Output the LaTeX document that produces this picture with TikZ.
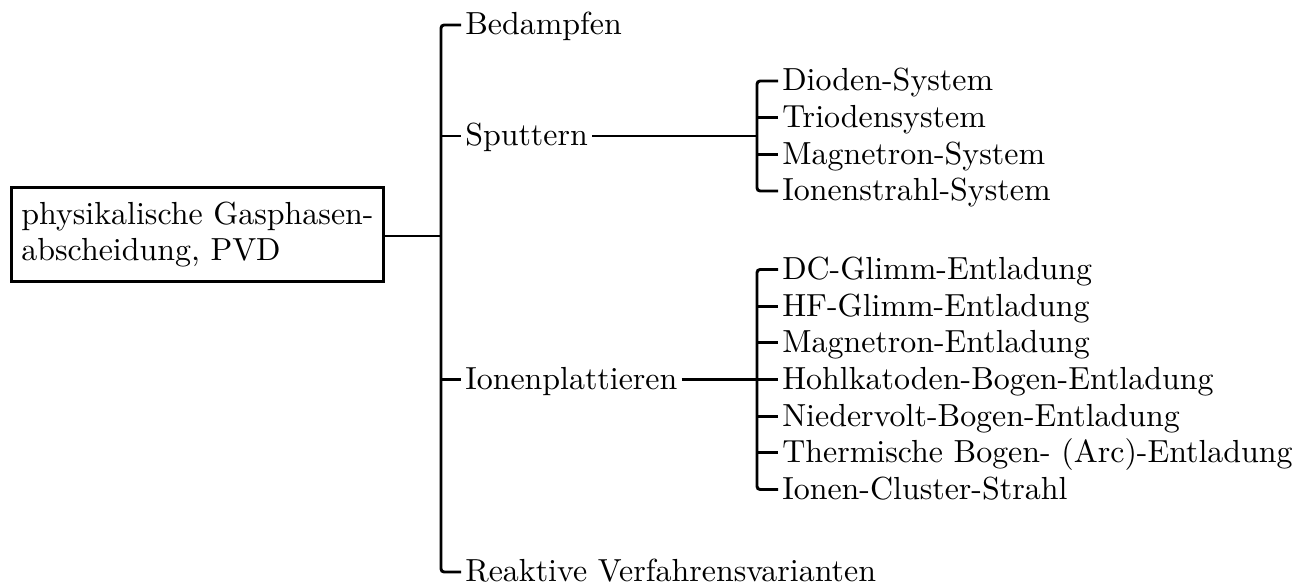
\documentclass[tikz,border=0pt]{standalone}
\begin{document}
\begin{tikzpicture}[x=0.3257pt,y=-0.3257pt,
  conn/.style={line width=0.95pt,rounded corners=1pt},
  item/.style={anchor=west,inner xsep=1.2pt,inner ysep=0pt,text height=8pt,text depth=1.6pt,font=\fontsize{10.4}{12}\selectfont},
  mainbox/.style={draw,line width=0.95pt,align=left,inner xsep=3.2pt,minimum height=30.9pt,font=\fontsize{10.4}{12}\selectfont}]
\useasboundingbox (0,0) rectangle (1302,585);
\node[mainbox] (pvd) at (197.5,234.5) {physikalische Gasphasen-\\abscheidung, PVD};
% main items
\node[item] (bed) at (461,25) {Bedampfen};
\node[item] (spu) at (461,136) {Sputtern};
\node[item] (ion) at (461,379.5) {Ionenplattieren};
\node[item] (rea) at (461,572) {Reaktive Verfahrensvarianten};
% trunk coordinates
\coordinate (t0) at (441,25);
\coordinate (tb) at (441,236);
\coordinate (t1) at (441,572);
\draw[conn] (bed.west) -- (t0) -- (t1) -- (rea.west);
\draw[conn] (pvd.east |- tb) -- (tb);
\draw[conn] (spu.west -| t0) -- (spu.west);
\draw[conn] (ion.west -| t0) -- (ion.west);
% sputter group
\node[item] (s1) at (778,81) {Dioden-System};
\node[item] (s2) at (778,117.7) {Triodensystem};
\node[item] (s3) at (778,154.3) {Magnetron-System};
\node[item] (s4) at (778,191) {Ionenstrahl-System};
\coordinate (sa) at (757,81);
\coordinate (sb) at (757,191);
\draw[conn] (s1.west) -- (sa) -- (sb) -- (s4.west);
\draw[conn] (spu.east) -- (spu.east -| sa);
\draw[conn] (s2.west -| sa) -- (s2.west);
\draw[conn] (s3.west -| sa) -- (s3.west);
% ion plating group
\node[item] (i1) at (778,269.5) {DC-Glimm-Entladung};
\node[item] (i2) at (778,306.2) {HF-Glimm-Entladung};
\node[item] (i3) at (778,342.8) {Magnetron-Entladung};
\node[item] (i4) at (778,379.5) {Hohlkatoden-Bogen-Entladung};
\node[item] (i5) at (778,416.2) {Niedervolt-Bogen-Entladung};
\node[item] (i6) at (778,452.8) {Thermische Bogen- (Arc)-Entladung};
\node[item] (i7) at (778,489.5) {Ionen-Cluster-Strahl};
\coordinate (ia) at (757,269.5);
\coordinate (ib) at (757,489.5);
\draw[conn] (i1.west) -- (ia) -- (ib) -- (i7.west);
\draw[conn] (ion.east) -- (i4.west);
\foreach \n in {i2,i3,i5,i6} \draw[conn] (\n.west -| ia) -- (\n.west);
\end{tikzpicture}
\end{document}
